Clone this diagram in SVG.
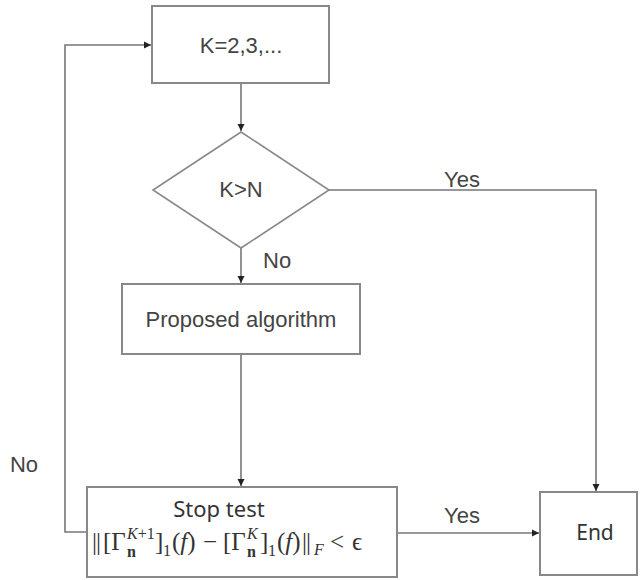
<svg xmlns="http://www.w3.org/2000/svg" width="640" height="580" viewBox="0 0 640 580">
<defs>
<marker id="ah" markerWidth="8" markerHeight="8" refX="7" refY="4" orient="auto" markerUnits="userSpaceOnUse">
<path d="M0,0.5 L7,4 L0,7.5 Z" fill="#222"/>
</marker>
<style>
.box{fill:#fff;stroke:#888;stroke-width:2}
.ln{fill:none;stroke:#777;stroke-width:1.6}
.lbl{font-family:"Liberation Sans",Arial,sans-serif;font-size:22px;fill:#444}
.cal{font-family:"Noto Sans","Open Sans",sans-serif;fill:#333}
.m{font-family:"Liberation Serif","DejaVu Serif",serif;font-size:25px;fill:#333}
.s{font-family:"Liberation Serif","DejaVu Serif",serif;font-size:16px;fill:#333}
</style>
</defs>
<rect width="640" height="580" fill="#fff"/>
<g id="connectors">
<path class="ln" d="M241,84 V131" marker-end="url(#ah)"/>
<path class="ln" d="M241,248 V283" marker-end="url(#ah)"/>
<path class="ln" d="M241,354 V486" marker-end="url(#ah)"/>
<path class="ln" d="M329,190 H596 V491" marker-end="url(#ah)"/>
<path class="ln" d="M397,533 H539" marker-end="url(#ah)"/>
<path class="ln" d="M87,532 H65 V45 H151" marker-end="url(#ah)"/>
<text class="lbl" x="462" y="187" text-anchor="middle">Yes</text>
<text class="lbl" x="263" y="268">No</text>
<text class="lbl" x="462" y="523" text-anchor="middle">Yes</text>
<text class="lbl" x="24" y="472" text-anchor="middle">No</text>
</g>
<g id="start">
<rect class="box" x="152" y="6" width="177" height="77"/>
<text class="lbl" x="241" y="53" text-anchor="middle">K=2,3,...</text>
</g>
<g id="decision">
<polygon class="box" points="241,132 329,190 241,248 153,190" style="stroke-width:1.6"/>
<text class="lbl" x="241" y="197" text-anchor="middle">K&gt;N</text>
</g>
<g id="proposed">
<rect class="box" x="122" y="284" width="238" height="70"/>
<text class="lbl" x="241" y="327" text-anchor="middle">Proposed algorithm</text>
</g>
<g id="stoptest">
<rect class="box" x="87" y="487" width="310" height="90"/>
<text class="cal" x="219" y="517" font-size="22" text-anchor="middle">Stop test</text>
<text class="m" x="92" y="550" letter-spacing="-1">||</text>
<text class="m" x="103" y="550">[Γ</text>
<text class="s" x="127" y="539"><tspan font-style="italic">K</tspan>+1</text>
<text class="s" x="127" y="557" font-weight="bold">n</text>
<text class="m" x="155" y="550">]</text>
<text class="s" x="163" y="556">1</text>
<text class="m" x="172" y="550">(<tspan font-style="italic">f</tspan>)</text>
<text class="m" x="203" y="550">−</text>
<text class="m" x="223" y="550">[Γ</text>
<text class="s" x="247" y="539" font-style="italic">K</text>
<text class="s" x="247" y="557" font-weight="bold">n</text>
<text class="m" x="260" y="550">]</text>
<text class="s" x="268" y="556">1</text>
<text class="m" x="277" y="550">(<tspan font-style="italic">f</tspan>)</text>
<text class="m" x="302" y="550" letter-spacing="-1">||</text>
<text class="s" x="314" y="555" font-style="italic">F</text>
<text class="m" x="330" y="550">&lt;</text>
<text class="m" x="352" y="550">ϵ</text>
</g>
<g id="end">
<rect class="box" x="540" y="492" width="97" height="83"/>
<text class="cal" x="595" y="540" font-size="21" text-anchor="middle">End</text>
</g>
</svg>
